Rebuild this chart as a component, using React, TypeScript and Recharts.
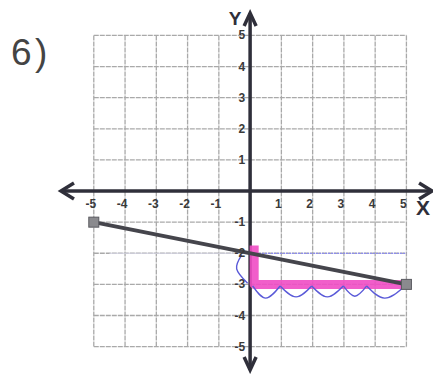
import { ComposedChart, Line, XAxis, YAxis, ReferenceLine, ReferenceDot } from 'recharts'

// grid runs -5..5 on both axes
const gridValues = [-5, -4, -3, -2, -1, 0, 1, 2, 3, 4, 5]
const xTickLabels = [-5, -4, -3, -2, -1, 1, 2, 3, 4, 5]
const yTickLabels = [5, 4, 3, 2, 1, -1, -2, -3, -4, -5]

// plotted line through (-5,-1) and (5,-3)
const mainLine = [
  { x: -5, y: -1 },
  { x: 5, y: -3 },
]

// pink rise/run highlight
const slopeStep = [
  { x: 0.13, y: -1.75 },
  { x: 0.13, y: -3 },
  { x: 5, y: -3 },
]

// dotted guide at y = -2
const guideFaint = [
  { x: -4.5, y: -2 },
  { x: 0, y: -2 },
]
const guideBlue = [
  { x: 0, y: -2 },
  { x: 5, y: -2 },
]

// hand drawn counting loops
const riseLoop = [
  { x: -0.27, y: -2.06 },
  { x: -0.43, y: -2.5 },
  { x: -0.08, y: -2.96 },
]
const runLoops = [
  [{ x: 0.08, y: -3.05 }, { x: 0.5, y: -3.44 }, { x: 0.96, y: -3.05 }],
  [{ x: 0.96, y: -3.05 }, { x: 1.47, y: -3.4 }, { x: 1.97, y: -3.05 }],
  [{ x: 1.97, y: -3.05 }, { x: 2.47, y: -3.4 }, { x: 2.98, y: -3.05 }],
  [{ x: 2.98, y: -3.05 }, { x: 3.35, y: -3.38 }, { x: 3.73, y: -3.05 }],
  [{ x: 3.73, y: -3.05 }, { x: 4.3, y: -3.44 }, { x: 4.9, y: -3.1 }],
]

// axis ends (arrow heads)
const axisEnds = [
  { x: -6.05, y: 0, dir: 'left' },
  { x: 5.82, y: 0, dir: 'right' },
  { x: 0, y: 5.72, dir: 'up' },
  { x: 0, y: -5.75, dir: 'down' },
]

const FONT = '"Liberation Sans", Arial, sans-serif'

const arrowPath: Record<string, string> = {
  left: 'M 13 -8 L 0 0 L 13 8',
  right: 'M -13 -8 L 0 0 L -13 8',
  up: 'M -6 13 L 0 0 L 6 13',
  down: 'M -6 -13 L 0 0 L 6 -13',
}

export default function App() {
  return (
    <div style={{ position: 'absolute', left: 0, top: 0, width: 433, height: 374, background: '#fff' }}>
      <div style={{ position: 'absolute', left: 11, top: 32, fontFamily: FONT, fontSize: 37, color: '#444' }}>6</div>
      <div style={{ position: 'absolute', left: 35, top: 32, fontFamily: FONT, fontSize: 37, color: '#444' }}>)</div>
      <ComposedChart width={433} height={374} margin={{ top: 0, right: 0, bottom: 0, left: 0 }}>
        <XAxis type="number" dataKey="x" domain={[-8, 5.85]} allowDataOverflow hide />
        <YAxis type="number" dataKey="y" domain={[-5.88, 6.14]} allowDataOverflow hide />

        {gridValues.map((v) => (
          <ReferenceLine
            key={`gx${v}`}
            segment={[{ x: v, y: -5 }, { x: v, y: 5 }]}
            stroke="#a9a9a9"
            strokeWidth={1.3}
            strokeDasharray="5 1"
          />
        ))}
        {gridValues.map((v) => (
          <ReferenceLine
            key={`gy${v}`}
            segment={[{ x: -5, y: v }, { x: 5, y: v }]}
            stroke="#a9a9a9"
            strokeWidth={1.3}
            strokeDasharray="5 1"
          />
        ))}

        <Line data={guideFaint} dataKey="y" stroke="#d6d6e4" strokeWidth={1} dot={false} activeDot={false} isAnimationActive={false} />
        <Line data={guideBlue} dataKey="y" stroke="#8c8cf0" strokeWidth={1.2} strokeDasharray="2 1" dot={false} activeDot={false} isAnimationActive={false} />

        {/* axes */}
        <ReferenceLine segment={[{ x: -6.05, y: 0 }, { x: 5.82, y: 0 }]} stroke="#2f2f3a" strokeWidth={3.5} />
        <ReferenceLine segment={[{ x: 0, y: 5.72 }, { x: 0, y: -5.75 }]} stroke="#2f2f3a" strokeWidth={3.5} />
        {axisEnds.map((a) => (
          <ReferenceDot
            key={a.dir}
            x={a.x}
            y={a.y}
            r={0}
            shape={(p: any) => (
              <path
                d={arrowPath[a.dir]}
                transform={`translate(${p.cx},${p.cy})`}
                fill="none"
                stroke="#2f2f3a"
                strokeWidth={3.5}
                strokeLinejoin="miter"
              />
            )}
          />
        ))}

        <Line
          data={slopeStep}
          dataKey="y"
          stroke="#f04cc4"
          strokeWidth={9}
          strokeOpacity={0.9}
          strokeLinejoin="round"
          dot={false}
          activeDot={false}
          isAnimationActive={false}
        />

        <Line
          data={mainLine}
          dataKey="y"
          stroke="#45454c"
          strokeWidth={4}
          activeDot={false}
          isAnimationActive={false}
          dot={(p: any) => (
            <rect
              key={`sq${p.index}`}
              x={p.cx - 5}
              y={p.cy - 5}
              width={10}
              height={10}
              fill="#8a8a8e"
              stroke="#5a5a60"
              strokeWidth={1}
            />
          )}
        />

        <Line data={riseLoop} dataKey="y" type="natural" stroke="#5a5ad8" strokeWidth={1.4} dot={false} activeDot={false} isAnimationActive={false} />
        {runLoops.map((loop, i) => (
          <Line
            key={`loop${i}`}
            data={loop}
            dataKey="y"
            type="natural"
            stroke="#5a5ad8"
            strokeWidth={1.4}
            dot={false}
            activeDot={false}
            isAnimationActive={false}
          />
        ))}

        {xTickLabels.map((v) => (
          <ReferenceDot
            key={`xl${v}`}
            x={v}
            y={0}
            r={0}
            shape={(p: any) => (
              <text
                x={p.cx - 3}
                y={p.cy + 17}
                textAnchor="middle"
                fontFamily={FONT}
                fontSize={12}
                fontWeight="bold"
                fill="#3a3a3a"
              >
                {v}
              </text>
            )}
          />
        ))}
        {yTickLabels.map((v) => (
          <ReferenceDot
            key={`yl${v}`}
            x={0}
            y={v}
            r={0}
            shape={(p: any) => (
              <text
                x={p.cx - 5}
                y={p.cy + 4}
                textAnchor="end"
                fontFamily={FONT}
                fontSize={12}
                fontWeight="bold"
                fill="#3a3a3a"
              >
                {v}
              </text>
            )}
          />
        ))}

        <ReferenceDot
          x={0}
          y={0}
          r={0}
          shape={(p: any) => (
            <g fontFamily={FONT} fontWeight="bold" fill="#2f2f3a">
              <text x={p.cx - 15} y={p.cy - 166} textAnchor="middle" fontSize={19}>
                Y
              </text>
              <text x={p.cx + 173} y={p.cy + 24} textAnchor="middle" fontSize={21}>
                X
              </text>
            </g>
          )}
        />
      </ComposedChart>
    </div>
  )
}
